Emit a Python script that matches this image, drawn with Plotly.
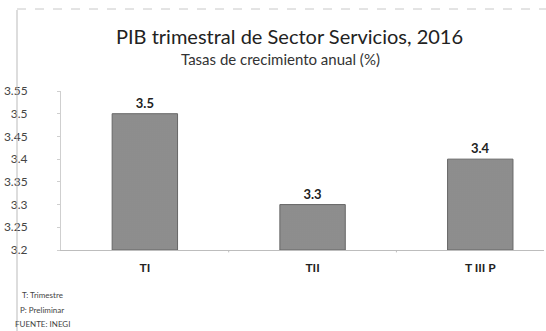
import plotly.graph_objects as go

categories = ["TI", "TII", "T III P"]
values = [3.5, 3.3, 3.4]
labels = ["3.5", "3.3", "3.4"]
ytick_vals = [3.2, 3.25, 3.3, 3.35, 3.4, 3.45, 3.5, 3.55]
ytick_text = ["3.2", "3.25", "3.3", "3.35", "3.4", "3.45", "3.5", "3.55"]
base_value = 3.2

W, H = 546, 331
L, R, T, B = 61, 2, 91, 81

fig = go.Figure()
fig.add_trace(go.Bar(
    x=[0, 1, 2], y=[v - base_value for v in values], base=base_value, width=0.39,
    marker=dict(color="#858585", line=dict(color="#666666", width=1),
                pattern=dict(shape=".", fgcolor="#6a6a6a", bgcolor="#959595", size=2, solidity=0.4)),
    text=labels, textposition="outside",
    textfont=dict(family="Lato, Open Sans, sans-serif", size=13, color="#222"),
    texttemplate="<b>%{text}</b>", cliponaxis=False,
))

fig.update_layout(
    width=W, height=H, margin=dict(l=L, r=R, t=T, b=B),
    paper_bgcolor="white", plot_bgcolor="white", showlegend=False,
    font=dict(family="Lato, Open Sans, sans-serif", color="#333"),
    xaxis=dict(range=[-0.5, 2.38], tickvals=[0, 1, 2],
               ticktext=["<b>" + c + "</b>" for c in categories],
               tickfont=dict(size=12, color="#222"), showgrid=False, zeroline=False,
               showline=True, linecolor="#bdbdbd", linewidth=1, ticks="", ticklabelstandoff=7),
    yaxis=dict(range=[3.2, 3.55], tickvals=ytick_vals, ticktext=ytick_text,
               tickfont=dict(size=12, color="#444"), showgrid=False, zeroline=False,
               showline=True, linecolor="#cfcfcf", linewidth=1, ticks="outside",
               ticklen=3, tickcolor="#cfcfcf", ticklabelstandoff=27),
)

for xv in [0.5, 1.5]:
    fig.add_shape(type="line", xref="x", yref="paper", x0=xv, x1=xv, y0=0, y1=-0.015,
                  line=dict(color="#bdbdbd", width=1))

pw = W - L - R
ph = H - T - B
def px_x(x):
    return (x - L) / pw
def px_y(y):
    return (H - B - y) / ph

fig.add_shape(type="line", xref="paper", yref="paper", x0=px_x(17), x1=px_x(17),
              y0=px_y(10), y1=px_y(331), line=dict(color="#bbbbbb", width=1))
fig.add_shape(type="line", xref="paper", yref="paper", x0=px_x(17), x1=px_x(546),
              y0=px_y(9), y1=px_y(9), line=dict(color="#c8c8c8", width=1, dash="dash"))

fig.add_annotation(text="PIB trimestral de Sector Servicios, 2016", xref="paper", yref="paper",
                   x=px_x(289), y=px_y(36), showarrow=False, xanchor="center", yanchor="middle",
                   font=dict(size=20, color="#222"))
fig.add_annotation(text="Tasas de crecimiento anual (%)", xref="paper", yref="paper",
                   x=px_x(280), y=px_y(59), showarrow=False, xanchor="center", yanchor="middle",
                   font=dict(size=15, color="#333"))
for txt, yy in [("T: Trimestre", 295), ("P: Preliminar", 310), ("FUENTE: INEGI", 324)]:
    fig.add_annotation(text=txt, xref="paper", yref="paper", x=px_x(42), y=px_y(yy),
                       showarrow=False, xanchor="center", yanchor="middle",
                       font=dict(size=8, color="#444"))

fig.write_html("out.html")
